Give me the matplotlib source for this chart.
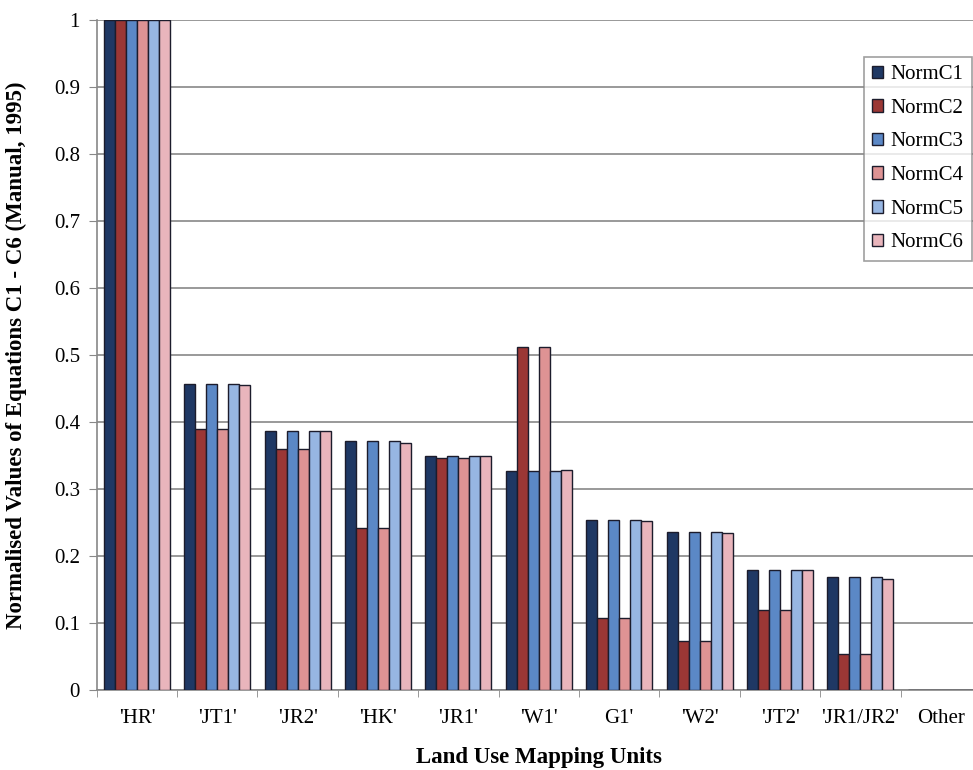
import numpy as np
import matplotlib
matplotlib.use("Agg")
import matplotlib.pyplot as plt

plt.rcParams['font.family'] = ['Liberation Serif', 'DejaVu Serif']

categories = ["'HR'", "'JT1'", "'JR2'", "'HK'", "'JR1'", "'W1'", "G1'", "'W2'", "'JT2'", "'JR1/JR2'", "Other"]
series_names = ["NormC1", "NormC2", "NormC3", "NormC4", "NormC5", "NormC6"]

norm_c1 = [1.0, 0.457, 0.387, 0.371, 0.349, 0.327, 0.254, 0.236, 0.179, 0.168, 0.0]
norm_c2 = [1.0, 0.389, 0.360, 0.242, 0.347, 0.512, 0.108, 0.073, 0.119, 0.054, 0.0]
norm_c3 = [1.0, 0.457, 0.387, 0.371, 0.349, 0.327, 0.254, 0.236, 0.179, 0.168, 0.0]
norm_c4 = [1.0, 0.389, 0.360, 0.242, 0.347, 0.512, 0.108, 0.073, 0.119, 0.054, 0.0]
norm_c5 = [1.0, 0.457, 0.387, 0.371, 0.349, 0.327, 0.254, 0.236, 0.179, 0.168, 0.0]
norm_c6 = [1.0, 0.455, 0.386, 0.369, 0.349, 0.328, 0.252, 0.235, 0.179, 0.166, 0.0]

colors = ["#1f3864", "#9b3735", "#5b88c6", "#de9394", "#97b6e2", "#e9b5bc"]

fig = plt.figure(figsize=(9.73, 7.7), dpi=100)
ax = fig.add_axes([96.7 / 973, 80 / 770, 884.3 / 973, 670 / 770])

x = np.arange(len(categories))
group = 0.82
w = group / 6
all_series = [norm_c1, norm_c2, norm_c3, norm_c4, norm_c5, norm_c6]
for i, vals in enumerate(all_series):
    ax.bar(x - group / 2 + w * (i + 0.5), vals, width=w, color=colors[i],
           edgecolor="#1c1c2c", linewidth=1.0, label=series_names[i], zorder=3)

ax.set_xlim(-0.5, len(categories) - 0.5)
ax.set_ylim(0, 1)
ax.set_yticks(np.arange(0, 1.01, 0.1))
ax.set_yticklabels(["0"] + ["%.1f" % v for v in np.arange(0.1, 0.95, 0.1)] + ["1"])
ax.yaxis.grid(True, color="#888888", linewidth=1.2, zorder=0)

ax.set_xticks(x)
ax.set_xticklabels(categories)
ax.set_xticks(np.arange(-0.5, len(categories), 1), minor=True)
ax.tick_params(axis='x', which='major', length=0, pad=14, labelsize=15)
ax.tick_params(axis='x', which='minor', length=5, color="#888888", direction='out')
ax.tick_params(axis='y', length=6, color="#888888", labelsize=15, pad=6)

for s in ['top', 'right']:
    ax.spines[s].set_visible(False)
ax.spines['left'].set_color("#888888")
ax.spines['bottom'].set_color("#888888")
ax.spines['left'].set_linewidth(1.2)
ax.spines['bottom'].set_linewidth(1.2)

ax.set_ylabel("Normalised Values of Equations C1 - C6 (Manual, 1995)",
              fontsize=16.5, fontweight='bold')
ax.yaxis.set_label_coords((16 - 96.7) / 884.3, 0.5)
ax.set_xlabel("Land Use Mapping Units", fontsize=16.5, fontweight='bold')
ax.xaxis.set_label_coords(0.5, -(757 - 690) / 670)
ax.xaxis.label.set_va('center')
ax.yaxis.label.set_va('center')

leg = ax.legend(loc='upper right', bbox_to_anchor=(972 / 973, 1 - 57 / 770),
                bbox_transform=fig.transFigure, fontsize=15, frameon=True,
                fancybox=False, handlelength=0.55, handleheight=0.55,
                handletextpad=0.35, labelspacing=0.7, borderpad=0.4,
                borderaxespad=0)
leg.get_frame().set_edgecolor("#888888")
leg.get_frame().set_linewidth(1.2)

fig.savefig("out.png", dpi=100)
